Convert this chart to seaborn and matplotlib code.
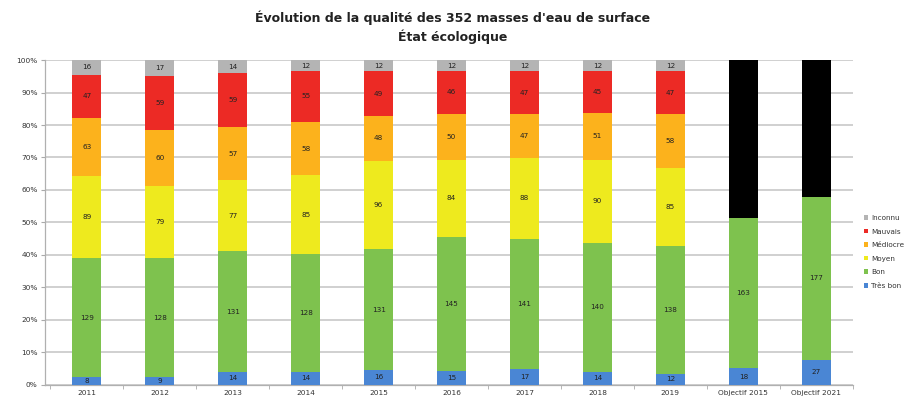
import numpy as np
import pandas as pd
import seaborn as sns
import matplotlib.pyplot as plt
from matplotlib.patches import Patch
from matplotlib.ticker import PercentFormatter, FixedLocator

# categories on the x axis
years = ["2011", "2012", "2013", "2014", "2015", "2016", "2017", "2018", "2019",
         "Objectif 2015", "Objectif 2021"]

# number of water bodies per class (bottom to top)
tres_bon = [8, 9, 14, 14, 16, 15, 17, 14, 12, 18, 27]
bon = [129, 128, 131, 128, 131, 145, 141, 140, 138, 163, 177]
moyen = [89, 79, 77, 85, 96, 84, 88, 90, 85, 0, 0]
mediocre = [63, 60, 57, 58, 48, 50, 47, 51, 58, 0, 0]
mauvais = [47, 59, 59, 55, 49, 46, 47, 45, 47, 0, 0]
inconnu = [16, 17, 14, 12, 12, 12, 12, 12, 12, 0, 0]
total = 352

classes = ["Très bon", "Bon", "Moyen", "Médiocre", "Mauvais", "Inconnu"]
colors = ["#4a86d4", "#7ec24e", "#eeea1e", "#fcb21c", "#ec2a25", "#b4b4b4"]

series = [tres_bon, bon, moyen, mediocre, mauvais, inconnu]
counts = pd.DataFrame(dict(zip(classes, series)), index=years)
# remainder of the objectives (not reached), shown in black
counts["Reste"] = total - counts.sum(axis=1)

pct = counts / total * 100
cum = pct.cumsum(axis=1)

fig = plt.figure(figsize=(9.1, 4.03), dpi=100)
ax = fig.add_axes([0.049, 0.045, 0.888, 0.806])

layer_colors = colors + ["#000000"]
# draw from the highest cumulative level down so lower layers overlay
for col, c in zip(reversed(list(cum.columns)), reversed(layer_colors)):
    df = pd.DataFrame({"year": years, "val": cum[col].values})
    sns.barplot(data=df, x="year", y="val", color=c, width=0.4,
                saturation=1, ax=ax, zorder=3)

# value labels in the middle of each segment
for i, y in enumerate(years):
    for col in classes:
        n = counts.loc[y, col]
        if n <= 0:
            continue
        mid = cum.loc[y, col] - pct.loc[y, col] / 2
        ax.text(i, mid, str(n), ha="center", va="center", fontsize=5.2,
                color="#222222", zorder=4)

ax.set_ylim(0, 100)
ax.set_xlim(-0.58, 10.5)
ax.yaxis.set_major_locator(FixedLocator(np.arange(0, 101, 10)))
ax.yaxis.set_major_formatter(PercentFormatter(decimals=0))
ax.xaxis.set_minor_locator(FixedLocator(np.arange(-0.5, 10.6, 1)))
ax.grid(axis="y", color="#c4c4c4", linewidth=1.1, zorder=0)
ax.set_axisbelow(True)
ax.set_xlabel("")
ax.set_ylabel("")
ax.tick_params(axis="both", labelsize=5.3, colors="#555555", labelcolor="#333333")
ax.tick_params(axis="x", which="major", length=0, pad=4)
ax.tick_params(axis="x", which="minor", length=3, color="#aaaaaa")
ax.tick_params(axis="y", length=3, color="#aaaaaa", pad=2)
for s in ["top", "right"]:
    ax.spines[s].set_visible(False)
for s in ["left", "bottom"]:
    ax.spines[s].set_color("#b0b0b0")
    ax.spines[s].set_linewidth(0.9)

handles = [Patch(facecolor=c, edgecolor="none", label=l)
           for l, c in zip(classes, colors)][::-1]
fig.legend(handles=handles, loc="center left", bbox_to_anchor=(0.942, 0.375),
           frameon=False, fontsize=5.2, handlelength=0.6, handleheight=0.6,
           handletextpad=0.4, labelspacing=1.05, labelcolor="#333333")

fig.text(0.497, 0.955, "Évolution de la qualité des 352 masses d'eau de surface",
         ha="center", va="center", fontsize=9, fontweight="bold", color="#222222")
fig.text(0.497, 0.908, "État écologique", ha="center", va="center",
         fontsize=9, fontweight="bold", color="#222222")

fig.savefig("out.png", dpi=100)
